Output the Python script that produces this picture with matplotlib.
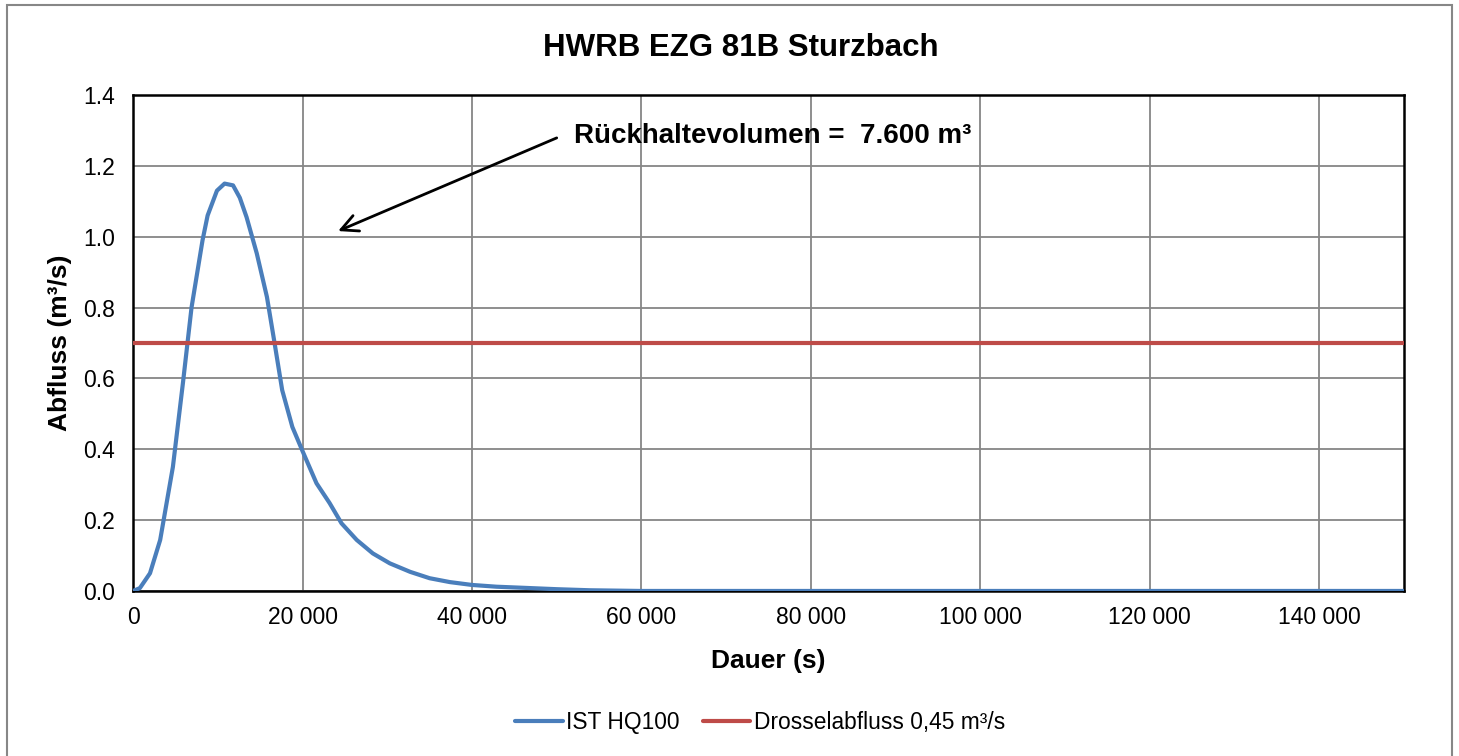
import matplotlib.pyplot as plt
from matplotlib.ticker import FuncFormatter, MultipleLocator
from matplotlib.patches import Rectangle

plt.rcParams['font.family'] = ['Liberation Sans', 'DejaVu Sans']

# Ganglinie IST HQ100 (Dauer in s, Abfluss in m3/s)
dauer = [0, 800, 2000, 3200, 4700, 5900, 6900, 8200, 8800, 9900, 10800,
         11800, 12600, 13400, 14600, 15800, 16700, 17600, 18800, 20000,
         21650, 23200, 24600, 26400, 28300, 30300, 32700, 35000, 37400,
         40000, 42900, 46000, 50000, 53900, 60000, 80000, 100000, 120000,
         140000, 150000]
abfluss = [0.0, 0.008, 0.05, 0.144, 0.35, 0.59, 0.80, 0.99, 1.06, 1.13, 1.15,
           1.145, 1.11, 1.055, 0.953, 0.83, 0.70, 0.567, 0.463, 0.395,
           0.304, 0.248, 0.191, 0.144, 0.106, 0.078, 0.054, 0.036, 0.025,
           0.017, 0.012, 0.009, 0.005, 0.002, 0.0, 0.0, 0.0, 0.0,
           0.0, 0.0]

# Drosselabfluss
drossel_x = [0, 150000]
drossel_y = [0.7, 0.7]

fig = plt.figure(figsize=(14.59, 7.56), dpi=100)
fig.patches.append(Rectangle((7 / 1459, -0.01), 1445 / 1459, 1.0034,
                             transform=fig.transFigure, fill=False,
                             edgecolor='#878787', linewidth=1.5))
ax = fig.add_axes([0.0912, 0.2183, 0.8711, 0.656])

ax.plot(dauer, abfluss, color='#4A7EBB', linewidth=3, label='IST HQ100',
        solid_capstyle='round', zorder=3)
ax.plot(drossel_x, drossel_y, color='#BE4B48', linewidth=3,
        label='Drosselabfluss 0,45 m³/s', solid_capstyle='round', zorder=3)

ax.set_xlim(0, 150000)
ax.set_ylim(0, 1.4)
ax.xaxis.set_major_locator(MultipleLocator(20000))
ax.yaxis.set_major_locator(MultipleLocator(0.2))
ax.xaxis.set_major_formatter(FuncFormatter(lambda v, p: f'{int(v):,}'.replace(',', ' ')))
ax.yaxis.set_major_formatter(FuncFormatter(lambda v, p: f'{v:.1f}'))
ax.tick_params(axis='x', length=0, labelsize=16.5, pad=11)
ax.tick_params(axis='y', length=0, labelsize=16.5, pad=13)
ax.grid(True, color='#868686', linewidth=1.3)
ax.set_axisbelow(True)
for s in ax.spines.values():
    s.set_color('black')
    s.set_linewidth(1.8)

fig.text(0.508, 0.937, 'HWRB EZG 81B Sturzbach', fontsize=22.5,
         fontweight='bold', ha='center', va='center')
ax.set_xlabel('Dauer (s)', fontsize=19, fontweight='bold', labelpad=14)
ax.set_ylabel('Abfluss (m³/s)', fontsize=19, fontweight='bold', labelpad=8)

ax.annotate('', xy=(24200, 1.016), xytext=(50000, 1.279),
            arrowprops=dict(arrowstyle='->', color='black', lw=2,
                            mutation_scale=30, shrinkA=0, shrinkB=0))
ax.text(52000, 1.284, 'Rückhaltevolumen =  7.600 m³', fontsize=20,
        fontweight='bold', va='center', ha='left')

fig.legend(loc='center', bbox_to_anchor=(760 / 1459, 1 - 722 / 756), ncol=2, frameon=False,
           fontsize=16.4, handlelength=2.1, handletextpad=0.15, columnspacing=1.0)

fig.savefig('out.png', dpi=100)
